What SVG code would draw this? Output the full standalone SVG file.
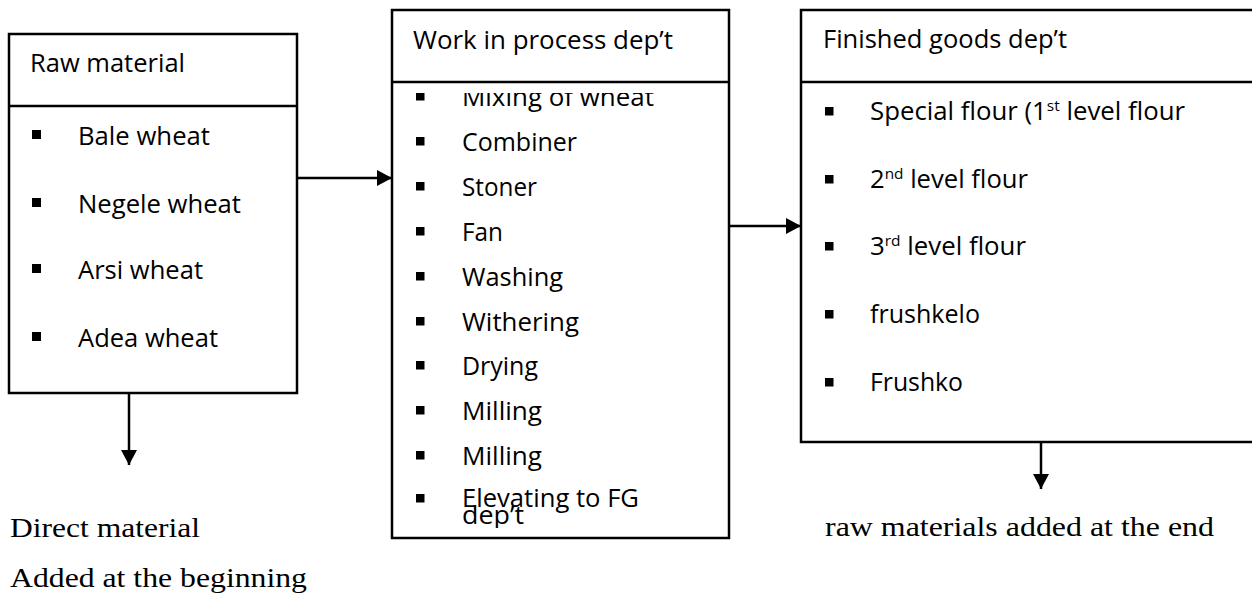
<svg xmlns="http://www.w3.org/2000/svg" width="1252" height="606" viewBox="0 0 1252 606">
  <style>
    .box { fill: #ffffff; stroke: #000000; stroke-width: 2.5; }
    .rule { stroke: #000000; stroke-width: 2.5; }
    .lbl { font-family: "Open Sans", "Noto Sans", "DejaVu Sans", sans-serif; font-size: 25px; font-weight: 500; fill: #000000; }
    .note { font-family: "Liberation Serif", "Times New Roman", serif; font-size: 28px; fill: #000000; }
    .bul { fill: #000000; }
    .sup { font-size: 15px; }
    .wire { stroke: #000000; stroke-width: 2.5; fill: none; marker-end: url(#head); }
  </style>
  <defs>
    <marker id="head" markerUnits="userSpaceOnUse" markerWidth="16" markerHeight="16" refX="15" refY="8" orient="auto">
      <path d="M0,0 L15,8 L0,16 Z" fill="#000000"/>
    </marker>
    <clipPath id="wipClip">
      <rect x="394" y="93" width="333" height="435"/>
    </clipPath>
  </defs>

  <rect width="1252" height="606" fill="#ffffff"/>

  <!-- Raw material -->
  <g id="raw-material">
    <rect class="box" x="9" y="34" width="288" height="359"/>
    <line class="rule" x1="9" y1="106" x2="297" y2="106"/>
    <text class="lbl" x="30" y="72" textLength="155" lengthAdjust="spacingAndGlyphs">Raw material</text>
    <rect class="bul" x="32" y="130" width="9" height="9"/>
    <text class="lbl" x="78" y="145" textLength="132" lengthAdjust="spacingAndGlyphs">Bale wheat</text>
    <rect class="bul" x="32" y="198" width="9" height="9"/>
    <text class="lbl" x="78" y="213" textLength="163" lengthAdjust="spacingAndGlyphs">Negele wheat</text>
    <rect class="bul" x="32" y="264" width="9" height="9"/>
    <text class="lbl" x="78" y="279" textLength="125" lengthAdjust="spacingAndGlyphs">Arsi wheat</text>
    <rect class="bul" x="32" y="332" width="9" height="9"/>
    <text class="lbl" x="78" y="347" textLength="140" lengthAdjust="spacingAndGlyphs">Adea wheat</text>
  </g>

  <!-- Work in process department -->
  <g id="work-in-process">
    <rect class="box" x="392" y="10" width="337" height="528"/>
    <line class="rule" x1="392" y1="82" x2="729" y2="82"/>
    <text class="lbl" x="413" y="49" textLength="260" lengthAdjust="spacingAndGlyphs">Work in process dep’t</text>
    <g clip-path="url(#wipClip)">
      <rect class="bul" x="416" y="92" width="8.5" height="8.5"/>
      <text class="lbl" x="462" y="106" textLength="192" lengthAdjust="spacingAndGlyphs">Mixing of wheat</text>
      <rect class="bul" x="416" y="137" width="8.5" height="8.5"/>
      <text class="lbl" x="462" y="151" textLength="115" lengthAdjust="spacingAndGlyphs">Combiner</text>
      <rect class="bul" x="416" y="182" width="8.5" height="8.5"/>
      <text class="lbl" x="462" y="196" textLength="75" lengthAdjust="spacingAndGlyphs">Stoner</text>
      <rect class="bul" x="416" y="227" width="8.5" height="8.5"/>
      <text class="lbl" x="462" y="241" textLength="41" lengthAdjust="spacingAndGlyphs">Fan</text>
      <rect class="bul" x="416" y="272" width="8.5" height="8.5"/>
      <text class="lbl" x="462" y="286" textLength="101" lengthAdjust="spacingAndGlyphs">Washing</text>
      <rect class="bul" x="416" y="317" width="8.5" height="8.5"/>
      <text class="lbl" x="462" y="331" textLength="117" lengthAdjust="spacingAndGlyphs">Withering</text>
      <rect class="bul" x="416" y="361" width="8.5" height="8.5"/>
      <text class="lbl" x="462" y="375" textLength="76" lengthAdjust="spacingAndGlyphs">Drying</text>
      <rect class="bul" x="416" y="406" width="8.5" height="8.5"/>
      <text class="lbl" x="462" y="420" textLength="80" lengthAdjust="spacingAndGlyphs">Milling</text>
      <rect class="bul" x="416" y="451" width="8.5" height="8.5"/>
      <text class="lbl" x="462" y="465" textLength="80" lengthAdjust="spacingAndGlyphs">Milling</text>
      <rect class="bul" x="416" y="494" width="8.5" height="8.5"/>
      <text class="lbl" x="462" y="507" textLength="177" lengthAdjust="spacingAndGlyphs">Elevating to FG</text>
      <text class="lbl" x="462" y="524" textLength="62" lengthAdjust="spacingAndGlyphs">dep’t</text>
    </g>
  </g>

  <!-- Finished goods department -->
  <g id="finished-goods">
    <rect class="box" x="801" y="10" width="470" height="432"/>
    <line class="rule" x1="801" y1="82" x2="1260" y2="82"/>
    <text class="lbl" x="823" y="48" textLength="244" lengthAdjust="spacingAndGlyphs">Finished goods dep’t</text>
    <rect class="bul" x="825" y="107" width="8.5" height="8.5"/>
    <text class="lbl" x="870" y="120" textLength="315" lengthAdjust="spacingAndGlyphs">Special flour (1<tspan class="sup" dy="-9">st</tspan><tspan dy="9"> level flour</tspan></text>
    <rect class="bul" x="825" y="175" width="8.5" height="8.5"/>
    <text class="lbl" x="870" y="188" textLength="158" lengthAdjust="spacingAndGlyphs">2<tspan class="sup" dy="-9">nd</tspan><tspan dy="9"> level flour</tspan></text>
    <rect class="bul" x="825" y="242" width="8.5" height="8.5"/>
    <text class="lbl" x="870" y="255" textLength="156" lengthAdjust="spacingAndGlyphs">3<tspan class="sup" dy="-9">rd</tspan><tspan dy="9"> level flour</tspan></text>
    <rect class="bul" x="825" y="310" width="8.5" height="8.5"/>
    <text class="lbl" x="870" y="323" textLength="110" lengthAdjust="spacingAndGlyphs">frushkelo</text>
    <rect class="bul" x="825" y="378" width="8.5" height="8.5"/>
    <text class="lbl" x="870" y="391" textLength="93" lengthAdjust="spacingAndGlyphs">Frushko</text>
  </g>

  <!-- Notes under the boxes -->
  <g id="note-direct-material">
    <text class="note" x="10" y="537" textLength="190" lengthAdjust="spacingAndGlyphs">Direct material</text>
    <text class="note" x="10" y="587" textLength="297" lengthAdjust="spacingAndGlyphs">Added at the beginning</text>
  </g>
  <g id="note-end-materials">
    <text class="note" x="825" y="536" textLength="389" lengthAdjust="spacingAndGlyphs">raw materials added at the end</text>
  </g>

  <!-- Connectors -->
  <g id="connectors">
    <line class="wire" x1="297" y1="178" x2="392" y2="178"/>
    <line class="wire" x1="729" y1="226" x2="801" y2="226"/>
    <line class="wire" x1="129" y1="393" x2="129" y2="465"/>
    <line class="wire" x1="1041" y1="442" x2="1041" y2="489"/>
  </g>
</svg>
